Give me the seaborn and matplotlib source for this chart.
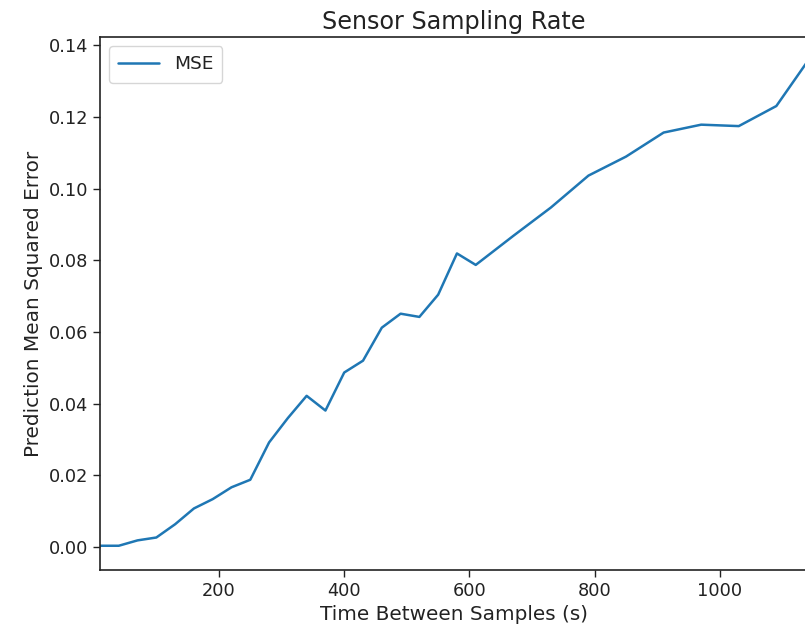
import matplotlib
matplotlib.use("Agg")
import matplotlib.pyplot as plt
import seaborn as sns
import pandas as pd

# Data
time_between_samples = [10, 40, 70, 100, 130, 160, 190, 220, 250, 280, 310, 340, 370,
                        400, 430, 460, 490, 520, 550, 580, 610, 670, 730, 790, 850,
                        910, 970, 1030, 1090, 1140]
mse_values = [0.0004, 0.0004, 0.0019, 0.0027, 0.0064, 0.0108, 0.0134, 0.0167, 0.0188,
              0.0292, 0.0360, 0.0422, 0.0381, 0.0487, 0.0520, 0.0612, 0.0651, 0.0642,
              0.0704, 0.0819, 0.0787, 0.0868, 0.0947, 0.1036, 0.1089, 0.1156, 0.1178,
              0.1174, 0.1230, 0.1355]
series_label = "MSE"

df = pd.DataFrame({"x": time_between_samples, "y": mse_values})

sns.set_style("ticks")
plt.rcParams["font.family"] = ["DejaVu Sans"]
plt.rcParams["text.color"] = "#222222"
plt.rcParams["axes.labelcolor"] = "#222222"
plt.rcParams["xtick.color"] = "#222222"
plt.rcParams["ytick.color"] = "#222222"

fig = plt.figure(figsize=(8.05, 6.36), dpi=100)
ax = fig.add_axes([0.1242, 0.1038, 0.8791, 0.8381])

sns.lineplot(data=df, x="x", y="y", ax=ax, color="#1f77b4", linewidth=1.8, label=series_label)

ax.set_xlim(min(time_between_samples), max(time_between_samples))
ax.set_xticks([200, 400, 600, 800, 1000])
yt = [0.00, 0.02, 0.04, 0.06, 0.08, 0.10, 0.12, 0.14]
ax.set_yticks(yt)
ax.set_yticklabels([f"{v:.2f}" for v in yt])
ax.tick_params(labelsize=12.8, length=5, width=1, colors="#222222")
for s in ax.spines.values():
    s.set_color("#222222")
    s.set_linewidth(1.2)

ax.set_xlabel("Time Between Samples (s)", fontsize=14.4)
ax.set_ylabel("Prediction Mean Squared Error", fontsize=14.4)
ax.set_title("Sensor Sampling Rate", fontsize=17.2)
ax.legend(loc="upper left", fontsize=13.3, frameon=True, handlelength=2.2,
          borderpad=0.5, handletextpad=0.8, borderaxespad=0.5)

fig.savefig("out.png", dpi=100)
